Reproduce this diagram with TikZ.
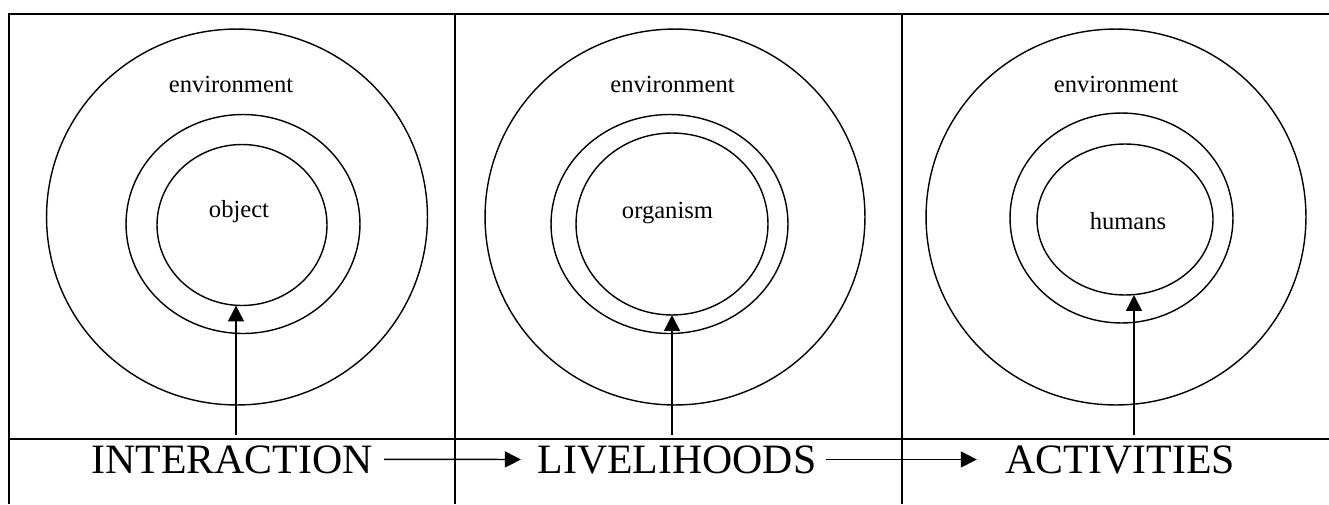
\documentclass[tikz,border=0pt]{standalone}
\usepackage{fontspec}
\setmainfont{Liberation Serif}
\usetikzlibrary{shapes.geometric, arrows.meta}

\tikzset{
  ring/.style={ellipse, draw, line width=0.8pt, inner sep=0pt, outer sep=0pt},
  envtext/.style={anchor=base, inner sep=0pt, font=\fontsize{14}{16}\selectfont},
  bigtext/.style={anchor=base, inner sep=0pt, font=\fontsize{23.8}{26}\selectfont},
  flow/.style={line width=0.8pt, -{Triangle[length=3.2mm, width=3.2mm]}},
}

\begin{document}
\begin{tikzpicture}[x=0.02cm, y=-0.02cm, line width=0.8pt]
    \useasboundingbox (0,0) rectangle (1329,504);

    % table lines
    \draw (9,504) -- (9,14) -- (1329,14);
    \draw (9,439) -- (1329,439);
    \foreach \x in {455,902}
    \draw (\x,14) -- (\x,504);

    % first panel
    \node[ring, minimum width=7.62cm, minimum height=7.52cm] (o1) at (237,217) {};
    \node[ring, minimum width=4.68cm, minimum height=4.38cm] (m1) at (243,224) {};
    \node[ring, minimum width=3.40cm, minimum height=3.22cm] (i1) at (242,225) {};
    \node[envtext] (e1) at (231,92) {environment};
    \node[envtext] (w1) at (239,217) {object};

    % second panel
    \node[ring, minimum width=7.60cm, minimum height=7.52cm] (o2) at (675,217) {};
    \node[ring, minimum width=4.74cm, minimum height=4.38cm] (m2) at (669.5,224) {};
    \node[ring, minimum width=3.84cm, minimum height=3.64cm] (i2) at (672,224) {};
    \node[envtext] (e2) at (672.5,92) {environment};
    \node[envtext] (w2) at (667.5,218) {organism};

    % third panel
    \node[ring, minimum width=7.60cm, minimum height=7.52cm] (o3) at (1116,217) {};
    \node[ring, minimum width=4.46cm, minimum height=4.20cm] (m3) at (1121.5,218) {};
    \node[ring, minimum width=3.52cm, minimum height=3.02cm] (i3) at (1125,219.5) {};
    \node[envtext] (e3) at (1116,92) {environment};
    \node[envtext] (w3) at (1128,229) {humans};

    % bottom row
    \node[bigtext] (inter) at (232,473) {INTERACTION};
    \node[bigtext] (liveli) at (677,473) {LIVELIHOODS};
    \node[bigtext] (activ) at (1120,473) {ACTIVITIES};

    \draw[flow, shorten <=0.22cm, shorten >=0.32cm] (inter.east) -- (liveli.west);
    \draw[flow, shorten <=0.18cm, shorten >=0.55cm] (liveli.east) -- (activ.west);

    % arrows up into the inner rings
    \coordinate (b1) at (236,435);
    \coordinate (b2) at (672,435);
    \coordinate (b3) at (1134,435);
    \draw[flow] (b1) -- (b1 |- i1.south);
    \draw[flow] (b2) -- (b2 |- i2.south);
    \draw[flow] (b3) -- (b3 |- i3.south);
\end{tikzpicture}
\end{document}
